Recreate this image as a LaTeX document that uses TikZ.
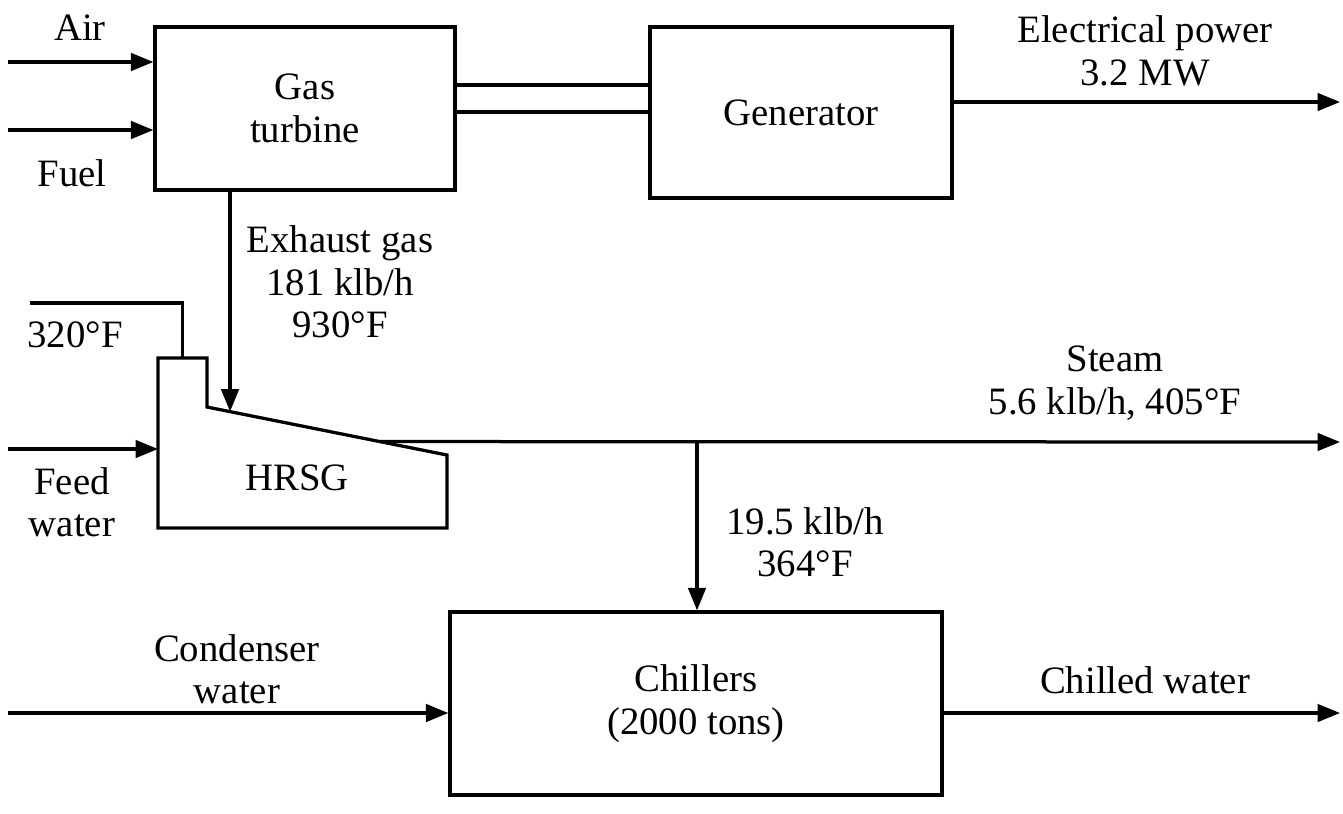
\documentclass[tikz,border=0pt]{standalone}
\usepackage{fontspec}
\setmainfont{Liberation Serif}
\usetikzlibrary{arrows.meta,positioning,calc}
\tikzset{
	blockbox/.style={
			draw=black,
			line width=1.3pt,
			fill=white,
			align=center,
			inner sep=0pt
		},
	flowline/.style={
			line width=1.3pt,
			-{Triangle[length=9pt,width=7pt]}
		},
	plainline/.style={
			line width=1.3pt
		},
	flowlabel/.style={
			align=center,
			inner sep=0pt
		}
}

\begin{document}
\begin{tikzpicture}[x=0.4pt, y=-0.4pt, font=\fontsize{15.5}{17}\selectfont]
\useasboundingbox (0,0) rectangle (1343,813);

% blocks
\node[blockbox, minimum width=120pt, minimum height=65.2pt] (gt) at (305,108.5) {Gas\\turbine};
\node[blockbox, minimum width=120.8pt, minimum height=68.4pt] (gen) at (801,112.5) {Generator};
\node[blockbox, minimum width=196.8pt, minimum height=73.2pt] (chill) at (696,703.5) {Chillers\\(2000 tons)};

% HRSG outline
\coordinate (h1) at (158,358);
\coordinate (h2) at (207,358);
\coordinate (h3) at (207,407);
\coordinate (h4) at (447,455);
\coordinate (h5) at (447,528);
\coordinate (h6) at (158,528);
\draw[plainline, line join=miter] (h1) -- (h2) -- (h3) -- (h4) -- (h5) -- (h6) -- cycle;
\node[flowlabel] (hrsg) at (297,478) {HRSG};

% free ends
\coordinate (airin) at (8,62);
\coordinate (fuelin) at (8,130);
\coordinate (powout) at (1340,102);
\coordinate (exin) at ($(h3)!0.096!(h4)$);
\coordinate (stackout) at (30,303);
\coordinate (feedin) at (8,449);
\coordinate (steamsrc) at ($(h3)!0.72!(h4)$);
\coordinate (steamout) at (1340,442);
\coordinate (branch) at (697,442);
\coordinate (condin) at (8,713);
\coordinate (chillout) at (1340,713);

% gas turbine inputs and shaft
\draw[flowline] (airin) -- (airin -| gt.west);
\draw[flowline] (fuelin) -- (fuelin -| gt.west);
\draw[plainline] (gt.east |- 0,85) -- (gen.west |- 0,85);
\draw[plainline] (gt.east |- 0,112) -- (gen.west |- 0,112);
\draw[flowline] (gen.east |- powout) -- (powout);

% exhaust and HRSG
\draw[flowline] (gt.south -| exin) -- (exin);
\draw[plainline] (stackout) -| ($(h1)!0.5!(h2)$);
\draw[flowline] (feedin) -- (feedin -| h1);
\draw[flowline] (steamsrc) -- (steamout);
\draw[flowline] (branch) -- (chill.north -| branch);

% chillers
\draw[flowline] (condin) -- (condin -| chill.west);
\draw[flowline] (chill.east |- chillout) -- (chillout);

% labels
\node[flowlabel] (lair) at (80,28) {Air};
\node[flowlabel] (lfuel) at (72,173) {Fuel};
\node[flowlabel] (lpow) at (1145,51) {Electrical power\\3.2 MW};
\node[flowlabel] (lexh) at (340,282) {Exhaust gas\\181 klb/h\\930°F};
\node[flowlabel] (lstack) at (75,335) {320°F};
\node[flowlabel] (lfeed) at (72,502) {Feed\\water};
\node[flowlabel] (lsteam) at (1115,383) {Steam\\5.6 klb/h, 405°F};
\node[flowlabel] (lbranch) at (805,542) {19.5 klb/h\\364°F};
\node[flowlabel] (lcond) at (237,669) {Condenser\\water};
\node[flowlabel] (lchill) at (1145,680) {Chilled water};
\end{tikzpicture}
\end{document}
